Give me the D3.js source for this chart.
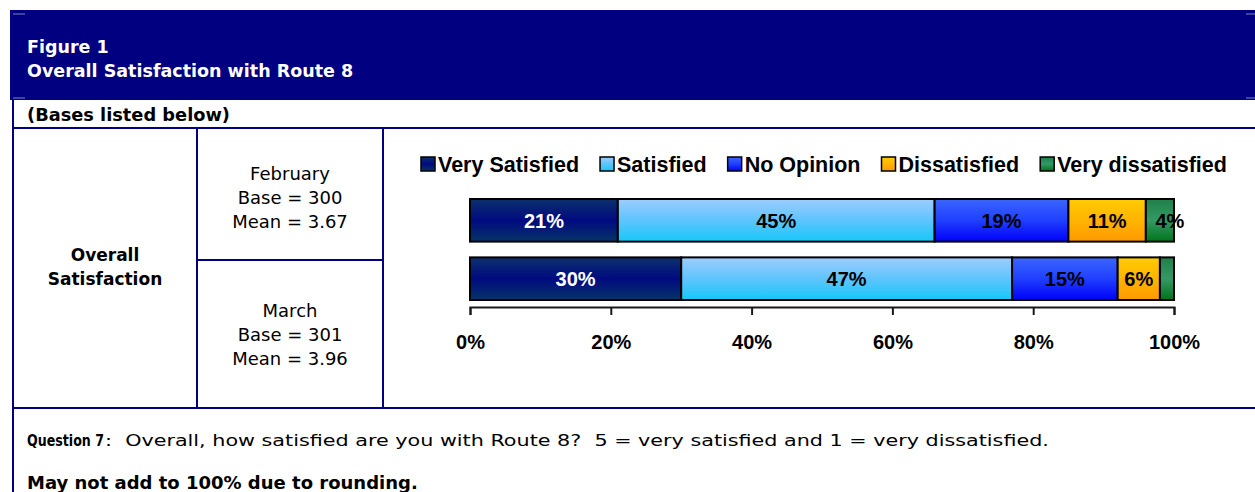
<!DOCTYPE html>
<html>
<head>
<meta charset="utf-8">
<script src="https://cdn.jsdelivr.net/npm/d3@7"></script>
<style>
  body { margin: 0; background: #fff; }
  svg { display: block; }
  .cell-text { font-family: "DejaVu Sans", sans-serif; }
  .chart-text { font-family: "Liberation Sans", Arial, sans-serif; font-weight: bold; }
</style>
</head>
<body>
<svg id="chart" width="1255" height="492"></svg>
<script>
// data
var months = ["February", "March"]
var bases = [300, 301]
var means = ["3.67", "3.96"]
var categories = ["Very Satisfied", "Satisfied", "No Opinion", "Dissatisfied", "Very dissatisfied"]
var febValues = [21, 45, 19, 11, 4]
var marValues = [30, 47, 15, 6, 2]
var tickValues = [0, 20, 40, 60, 80, 100]

var navy = "#000080"

// gradient stops top -> middle -> bottom for each category
var gradients = [
    ["#0c306c", "#000a80", "#063468"],
    ["#9ccdff", "#5fc4fd", "#16c8fa"],
    ["#3a66ff", "#2040ff", "#0000f8"],
    ["#ffcc00", "#ffb400", "#ff9900"],
    ["#1f8048", "#339966", "#00741a"]
]
var labelColors = ["white", "black", "black", "black", "black"]

var svg = d3.select("#chart")

var defs = svg.append("defs")
gradients.forEach(function(g, i) {
    var lg = defs.append("linearGradient")
        .attr("id", "grad" + i)
        .attr("x1", "0%").attr("y1", "0%")
        .attr("x2", "0%").attr("y2", "100%")
    lg.append("stop").attr("offset", "0%").attr("stop-color", g[0])
    lg.append("stop").attr("offset", "50%").attr("stop-color", g[1])
    lg.append("stop").attr("offset", "100%").attr("stop-color", g[2])
})

// header band
svg.append("rect")
    .attr("x", 10).attr("y", 10)
    .attr("width", 1245).attr("height", 90)
    .style("fill", navy)

// little grey marks at the band corners
var marks = [[13, 25, 14], [13, 25, 98], [1246, 1255, 14], [1246, 1255, 98]]
svg.selectAll(".mark")
    .data(marks)
    .enter().append("line")
    .attr("class", "mark")
    .attr("x1", function(d) { return d[0] })
    .attr("x2", function(d) { return d[1] })
    .attr("y1", function(d) { return d[2] })
    .attr("y2", function(d) { return d[2] })
    .style("stroke", "#7f86c0")
    .style("stroke-width", 1)

svg.append("text")
    .attr("class", "cell-text")
    .attr("x", 27).attr("y", 53)
    .style("font-size", "17.5px").style("font-weight", "bold")
    .style("fill", "white")
    .text("Figure 1")

svg.append("text")
    .attr("class", "cell-text")
    .attr("x", 27).attr("y", 77)
    .style("font-size", "17.5px").style("font-weight", "bold")
    .style("fill", "white")
    .text("Overall Satisfaction with Route 8")

svg.append("text")
    .attr("class", "cell-text")
    .attr("x", 27).attr("y", 121)
    .style("font-size", "17.8px").style("font-weight", "bold")
    .text("(Bases listed below)")

// table lines
var tableLines = [
    [13, 100, 13, 492],
    [13, 128, 1255, 128],
    [13, 408, 1255, 408],
    [197, 128, 197, 408],
    [383, 128, 383, 408],
    [197, 260, 383, 260]
]
svg.selectAll(".grid")
    .data(tableLines)
    .enter().append("line")
    .attr("class", "grid")
    .attr("x1", function(d) { return d[0] })
    .attr("y1", function(d) { return d[1] })
    .attr("x2", function(d) { return d[2] })
    .attr("y2", function(d) { return d[3] })
    .style("stroke", navy)
    .style("stroke-width", 2)

var rowTitle = svg.append("text")
    .attr("class", "cell-text")
    .attr("text-anchor", "middle")
    .style("font-size", "17px").style("font-weight", "bold")
rowTitle.append("tspan").attr("x", 105).attr("y", 261).text("Overall")
rowTitle.append("tspan").attr("x", 105).attr("y", 285).text("Satisfaction")

var infoTop = [180, 317]
months.forEach(function(m, i) {
    var t = svg.append("text")
        .attr("class", "cell-text")
        .attr("text-anchor", "middle")
        .style("font-size", "18px")
    var lines = [m, "Base = " + bases[i], "Mean = " + means[i]]
    lines.forEach(function(l, j) {
        t.append("tspan").attr("x", 290).attr("y", infoTop[i] + j * 24).text(l)
    })
})

// chart
var x = d3.scaleLinear()
    .domain([0, 100])
    .range([470, 1174])

var y = d3.scaleBand()
    .domain(months)
    .range([199, 300])
    .paddingInner(0.27)

var rows = [febValues, marValues].map(function(vals, i) {
    var start = 0
    return vals.map(function(v, j) {
        var seg = { month: months[i], cat: j, value: v, x0: start, x1: start + v }
        start += v
        return seg
    })
})

var row = svg.selectAll(".row")
    .data(rows)
    .enter().append("g")
    .attr("class", "row")

var seg = row.selectAll(".seg")
    .data(function(d) { return d })
    .enter().append("g")
    .attr("class", "seg")

seg.append("rect")
    .attr("x", function(d) { return x(d.x0) })
    .attr("y", function(d) { return y(d.month) })
    .attr("width", function(d) { return x(d.x1) - x(d.x0) })
    .attr("height", y.bandwidth())
    .style("fill", function(d) { return "url(#grad" + d.cat + ")" })
    .style("stroke", "black")
    .style("stroke-width", 2)

// tiny segments get no label, small ones spill past the bar end
seg.filter(function(d) { return d.value >= 3 })
    .append("text")
    .attr("class", "chart-text")
    .attr("x", function(d) { return (x(d.x0) + x(d.x1)) / 2 + (d.value < 5 ? 10 : 0) })
    .attr("y", function(d) { return y(d.month) + y.bandwidth() / 2 })
    .attr("dy", ".36em")
    .attr("text-anchor", "middle")
    .style("font-size", "20px")
    .style("fill", function(d) { return labelColors[d.cat] })
    .text(function(d) { return d.value + "%" })

var xAxis = d3.axisBottom(x)
    .tickValues(tickValues)
    .tickFormat(function(d) { return d + "%" })
    .tickSize(8)

var axis = svg.append("g")
    .attr("transform", "translate(0,307)")
    .call(xAxis)

axis.selectAll("path, line")
    .style("stroke", "#1a1a1a")
    .style("stroke-width", 2)

axis.selectAll("text")
    .attr("class", "chart-text")
    .attr("y", 42)
    .attr("dy", 0)
    .style("font-size", "20px")
    .style("fill", "black")

// legend
var legend = svg.append("g").attr("class", "legend")
var lx = 421
categories.forEach(function(c, i) {
    var item = legend.append("g")
    item.append("rect")
        .attr("x", lx).attr("y", 157)
        .attr("width", 14).attr("height", 14)
        .style("fill", "url(#grad" + i + ")")
        .style("stroke", "black")
        .style("stroke-width", 1.5)
    var t = item.append("text")
        .attr("class", "chart-text")
        .attr("x", lx + 17).attr("y", 172)
        .style("font-size", "21.5px")
        .text(c)
    lx = lx + 17 + t.node().getComputedTextLength() + 21
})

// footnotes - squeeze / stretch horizontally to the width of the original font
function fitText(txt, left, right, baseline, bold) {
    var t = svg.append("text")
        .attr("class", "cell-text")
        .attr("xml:space", "preserve")
        .style("font-size", "16.5px")
        .style("font-weight", bold ? "bold" : "normal")
        .text(txt)
    var w = t.node().getComputedTextLength()
    t.attr("transform", "translate(" + left + "," + baseline + ") scale(" + ((right - left) / w) + ",1)")
    return t
}

fitText("Question 7", 27, 104, 446, true)
fitText(":  Overall, how satisfied are you with Route 8?  5 = very satisfied and 1 = very dissatisfied.", 105, 1049, 446, false)

svg.append("text")
    .attr("class", "cell-text")
    .attr("x", 27).attr("y", 489)
    .style("font-size", "18px").style("font-weight", "bold")
    .text("May not add to 100% due to rounding.")
</script>
</body>
</html>
